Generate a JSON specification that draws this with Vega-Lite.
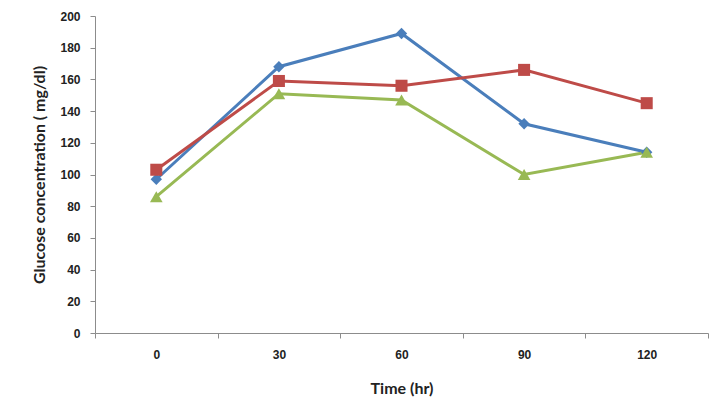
{
  "$schema": "https://vega.github.io/schema/vega-lite/v6.json",
  "autosize": {"type": "none"},
  "width": 613,
  "height": 317,
  "padding": {"left": 95, "top": 16, "right": 15, "bottom": 86},
  "background": "white",
  "config": {"view": {"stroke": null}},
  "data": {
    "values": [
      {"time": "0", "series": "Series 1", "glucose": 97},
      {"time": "30", "series": "Series 1", "glucose": 168},
      {"time": "60", "series": "Series 1", "glucose": 189},
      {"time": "90", "series": "Series 1", "glucose": 132},
      {"time": "120", "series": "Series 1", "glucose": 114},
      {"time": "0", "series": "Series 2", "glucose": 103},
      {"time": "30", "series": "Series 2", "glucose": 159},
      {"time": "60", "series": "Series 2", "glucose": 156},
      {"time": "90", "series": "Series 2", "glucose": 166},
      {"time": "120", "series": "Series 2", "glucose": 145},
      {"time": "0", "series": "Series 3", "glucose": 86},
      {"time": "30", "series": "Series 3", "glucose": 151},
      {"time": "60", "series": "Series 3", "glucose": 147},
      {"time": "90", "series": "Series 3", "glucose": 100},
      {"time": "120", "series": "Series 3", "glucose": 114}
    ]
  },
  "encoding": {
    "x": {
      "field": "time",
      "type": "ordinal",
      "sort": ["0", "30", "60", "90", "120"],
      "scale": {"type": "band", "paddingInner": 0, "paddingOuter": 0},
      "axis": {
        "title": "Time (hr)",
        "labelAngle": 0,
        "tickBand": "extent",
        "domainColor": "#8c8c8c",
        "tickColor": "#8c8c8c",
        "tickSize": 5,
        "labelPadding": 11,
        "labelFont": "Liberation Sans",
        "labelFontWeight": "bold",
        "labelFontSize": 12,
        "labelColor": "#222222",
        "titleFont": "Lato",
        "titleFontWeight": "bold",
        "titleFontSize": 16,
        "titleColor": "#222222",
        "titlePadding": 20,
        "grid": false
      }
    },
    "y": {
      "field": "glucose",
      "type": "quantitative",
      "scale": {"domain": [0, 200], "nice": false},
      "axis": {
        "title": "Glucose concentration ( mg/dl)",
        "values": [0, 20, 40, 60, 80, 100, 120, 140, 160, 180, 200],
        "grid": false,
        "domainColor": "#8c8c8c",
        "tickColor": "#8c8c8c",
        "tickSize": 5,
        "labelPadding": 10,
        "labelFont": "Liberation Sans",
        "labelFontWeight": "bold",
        "labelFontSize": 12,
        "labelColor": "#222222",
        "titleFont": "Lato",
        "titleFontWeight": "bold",
        "titleFontSize": 16,
        "titleColor": "#222222",
        "titlePadding": 12
      }
    },
    "color": {
      "field": "series",
      "type": "nominal",
      "scale": {"domain": ["Series 1", "Series 2", "Series 3"], "range": ["#4a7ebb", "#be4b48", "#98b954"]},
      "legend": null
    }
  },
  "layer": [
    {
      "mark": {"type": "line", "strokeWidth": 3}
    },
    {
      "mark": {"type": "point", "filled": true, "opacity": 1},
      "encoding": {
        "shape": {
          "field": "series",
          "type": "nominal",
          "scale": {"domain": ["Series 1", "Series 2", "Series 3"], "range": ["diamond", "square", "triangle-up"]},
          "legend": null
        },
        "size": {
          "field": "series",
          "type": "nominal",
          "scale": {"domain": ["Series 1", "Series 2", "Series 3"], "range": [130, 160, 160]},
          "legend": null
        }
      }
    }
  ]
}
